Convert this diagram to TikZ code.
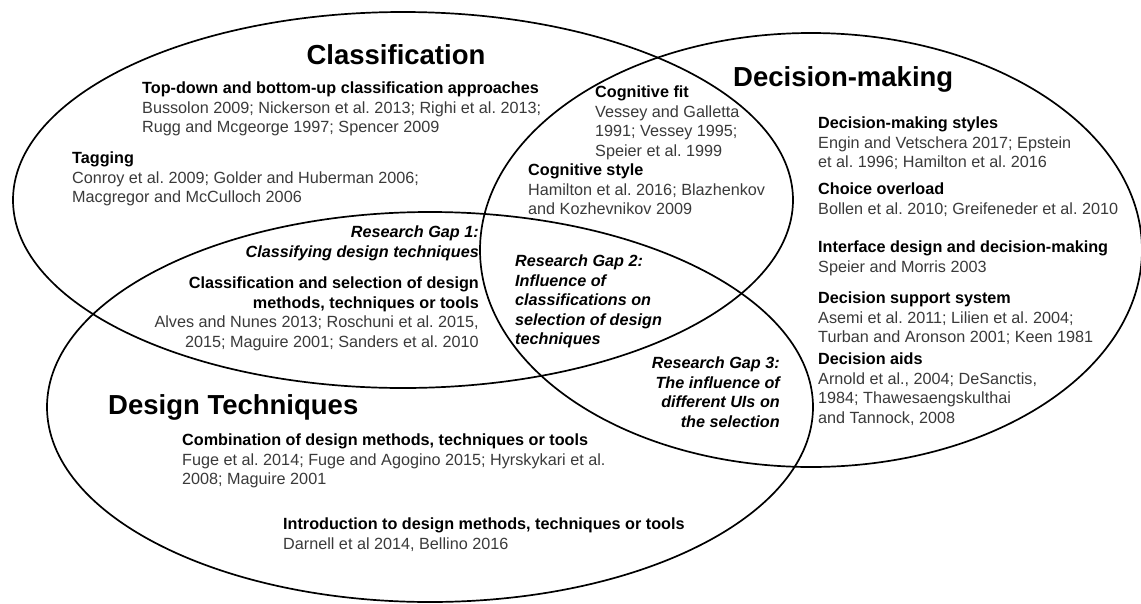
\documentclass[tikz,border=0pt]{standalone}
\usepackage{fontspec}
\setmainfont{Liberation Sans}
\frenchspacing
\definecolor{refgray}{RGB}{58,58,58}
% heading line inside a reference block
\newcommand{\blockhead}[1]{\textcolor{black}{\bfseries #1}}
\begin{document}
\begin{tikzpicture}[x=1pt, y=-1pt,
  venn/.style={draw=black, line width=1.7pt},
  areatitle/.style={font=\fontsize{27.5}{33}\selectfont\bfseries, inner sep=0pt},
  refleft/.style={align=left, anchor=north west, inner sep=0pt,
    font=\fontsize{16.2}{19.4}\selectfont, text=refgray},
  refright/.style={align=right, anchor=north east, inner sep=0pt,
    font=\fontsize{16.2}{19.4}\selectfont, text=refgray},
  gapnote/.style={font=\fontsize{16.2}{19.4}\selectfont\bfseries\itshape, text=black}
]
\useasboundingbox (0,0) rectangle (1141,603);
\fill[white] (0,0) rectangle (1141,603);

% the three overlapping research areas
\draw[venn] (403,200) ellipse [x radius=390, y radius=188];
\draw[venn] (811,250) ellipse [x radius=331, y radius=217];
\draw[venn] (430,407) ellipse [x radius=383, y radius=195];

% area titles
\node[areatitle, anchor=base] (tclass) at (396,64) {Classification};
\node[areatitle, anchor=base west] (tdecision) at (733,86) {Decision-making};
\node[areatitle, anchor=base west] (tdesign) at (108,414) {Design Techniques};

% Classification
\node[refleft] (topdown) at (142,82) {\blockhead{Top-down and bottom-up classification approaches}\\
  Bussolon 2009; Nickerson et al. 2013; Righi et al. 2013;\\
  Rugg and Mcgeorge 1997; Spencer 2009};
\node[refleft] (tagging) at (72,152) {\blockhead{Tagging}\\
  Conroy et al. 2009; Golder and Huberman 2006;\\
  Macgregor and McCulloch 2006};

% Classification and Design Techniques
\node[refright, gapnote] (gapone) at (479,226) {Research Gap 1:\\
  Classifying design techniques};
\node[refright] (classsel) at (479,277) {\blockhead{Classification and selection of design}\\
  \blockhead{methods, techniques or tools}\\
  Alves and Nunes 2013; Roschuni et al. 2015,\\
  2015; Maguire 2001; Sanders et al. 2010};

% Classification and Decision-making
\node[refleft] (cogfit) at (595,86) {\blockhead{Cognitive fit}\\
  Vessey and Galletta\\
  1991; Vessey 1995;\\
  Speier et al. 1999};
\node[refleft] (cogstyle) at (528,164) {\blockhead{Cognitive style}\\
  Hamilton et al. 2016; Blazhenkov\\
  and Kozhevnikov 2009};

% centre of the three areas
\node[refleft, gapnote] (gaptwo) at (515,255) {Research Gap 2:\\
  Influence of\\
  classifications on\\
  selection of design\\
  techniques};

% Design Techniques and Decision-making
\node[refright, gapnote] (gapthree) at (780,357) {Research Gap 3:\\
  The influence of\\
  different UIs on\\
  the selection};

% Decision-making
\node[refleft] (dmstyles) at (818,117) {\blockhead{Decision-making styles}\\
  Engin and Vetschera 2017; Epstein\\
  et al. 1996; Hamilton et al. 2016};
\node[refleft] (overload) at (818,183) {\blockhead{Choice overload}\\
  Bollen et al. 2010; Greifeneder et al. 2010};
\node[refleft] (interface) at (818,241) {\blockhead{Interface design and decision-making}\\
  Speier and Morris 2003};
\node[refleft] (dss) at (818,292) {\blockhead{Decision support system}\\
  Asemi et al. 2011; Lilien et al. 2004;\\
  Turban and Aronson 2001; Keen 1981};
\node[refleft] (aids) at (818,353) {\blockhead{Decision aids}\\
  Arnold et al., 2004; DeSanctis,\\
  1984; Thawesaengskulthai\\
  and Tannock, 2008};

% Design Techniques
\node[refleft] (combination) at (182,434) {\blockhead{Combination of design methods, techniques or tools}\\
  Fuge et al. 2014; Fuge and Agogino 2015; Hyrskykari et al.\\
  2008; Maguire 2001};
\node[refleft] (intro) at (283,518) {\blockhead{Introduction to design methods, techniques or tools}\\
  Darnell et al 2014, Bellino 2016};
\end{tikzpicture}
\end{document}
